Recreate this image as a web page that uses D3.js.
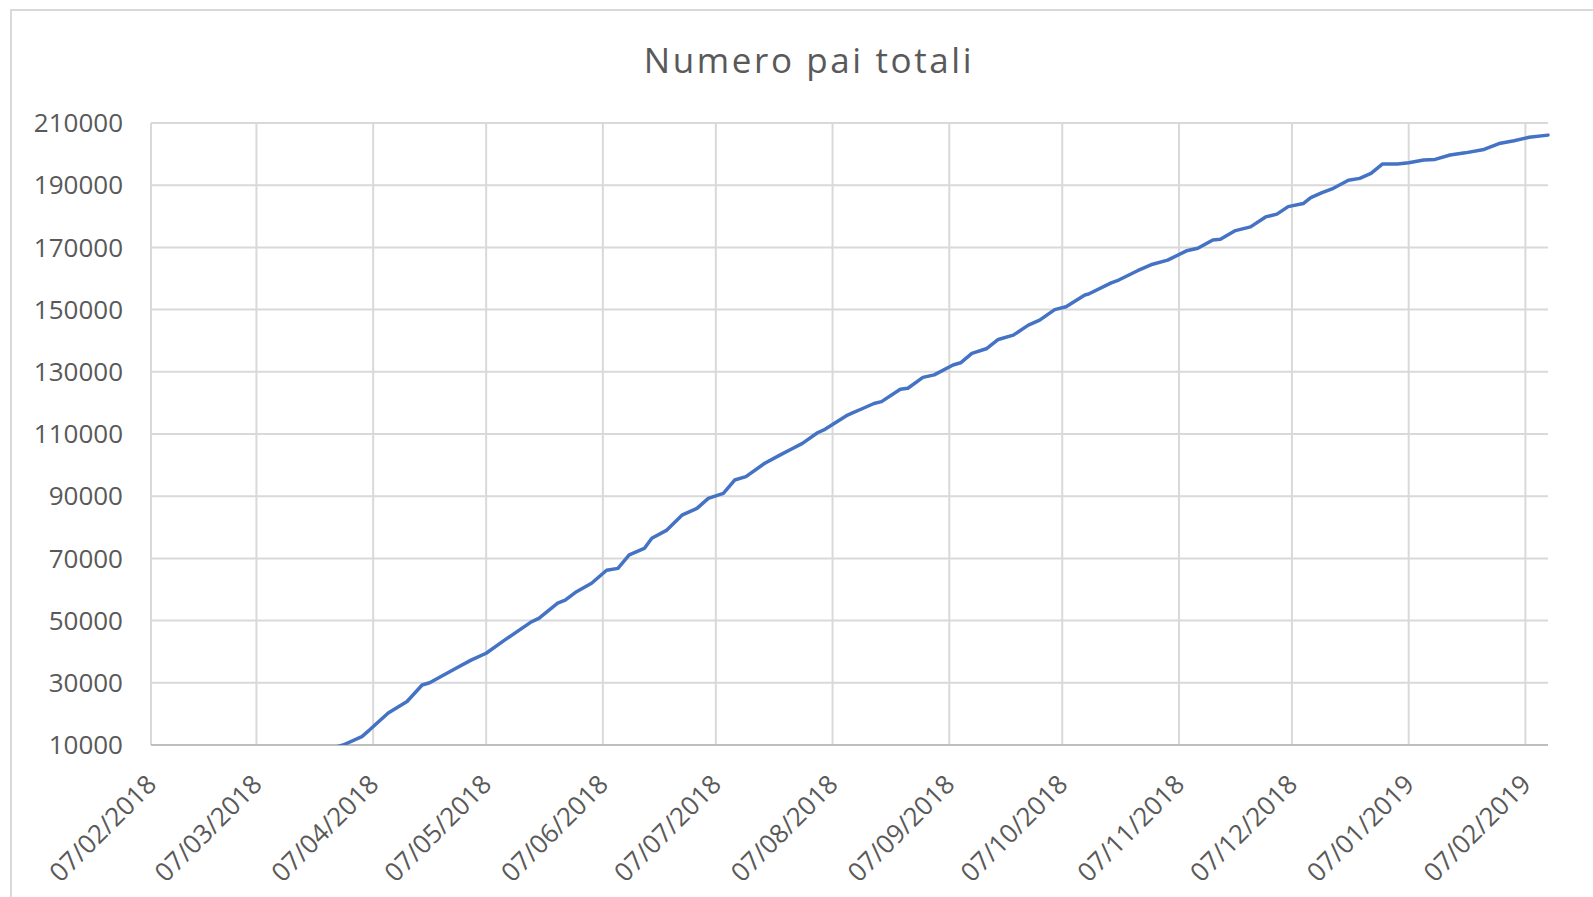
<!DOCTYPE html>
<html>
<head>
<meta charset="utf-8">
<script src="https://cdn.jsdelivr.net/npm/d3@7"></script>
<style>
  body { margin: 0; background: #fff; }
  svg { display: block; }
  text { font-family: "Open Sans", "Noto Sans", sans-serif; fill: #595959; }
</style>
</head>
<body>
<script>
// data (date, total)
var dates = ["2018-03-28","2018-03-30","2018-04-04","2018-04-06","2018-04-11","2018-04-16","2018-04-20","2018-04-22",
  "2018-04-29","2018-05-03","2018-05-07","2018-05-12","2018-05-19","2018-05-21","2018-05-26","2018-05-28","2018-05-31",
  "2018-06-04","2018-06-08","2018-06-11","2018-06-14","2018-06-18","2018-06-20","2018-06-24","2018-06-28",
  "2018-07-02","2018-07-05","2018-07-09","2018-07-12","2018-07-15","2018-07-20","2018-07-24","2018-07-27","2018-07-30",
  "2018-08-03","2018-08-05","2018-08-11","2018-08-12","2018-08-15","2018-08-18","2018-08-20","2018-08-25","2018-08-27","2018-08-31",
  "2018-09-03","2018-09-08","2018-09-10","2018-09-13","2018-09-17","2018-09-20","2018-09-24","2018-09-28",
  "2018-10-01","2018-10-05","2018-10-08","2018-10-13","2018-10-14","2018-10-20","2018-10-22","2018-10-27","2018-10-31",
  "2018-11-04","2018-11-09","2018-11-12","2018-11-16","2018-11-18","2018-11-22","2018-11-26","2018-11-30",
  "2018-12-03","2018-12-06","2018-12-10","2018-12-12","2018-12-15","2018-12-18","2018-12-22","2018-12-25","2018-12-28","2018-12-31",
  "2019-01-04","2019-01-07","2019-01-11","2019-01-14","2019-01-18","2019-01-22","2019-01-27","2019-01-31",
  "2019-02-04","2019-02-08","2019-02-13"];
var totals = [9300,10000,12700,14800,20300,24000,29300,30000,
  34700,37300,39500,43800,49600,50700,55600,56600,59300,
  62000,66200,66800,71100,73200,76500,79100,83900,
  86100,89300,90900,95200,96300,100600,103200,105100,107000,
  110400,111500,116100,116600,118200,119800,120400,124400,124700,128200,
  129000,132200,132900,135900,137500,140400,141800,145000,
  146600,150000,150900,154700,155000,158600,159500,162500,164600,
  165900,168900,169700,172400,172600,175400,176600,179800,
  180700,183100,184100,186000,187600,189000,191600,192200,193800,196800,
  196800,197200,198100,198300,199700,200400,201500,203400,
  204300,205400,206100];

var xTicks = ["2018-02-07","2018-03-07","2018-04-07","2018-05-07","2018-06-07","2018-07-07","2018-08-07",
  "2018-09-07","2018-10-07","2018-11-07","2018-12-07","2019-01-07","2019-02-07"];
var yTicks = [10000,30000,50000,70000,90000,110000,130000,150000,170000,190000,210000];
var xStart = "2018-02-07", xEnd = "2019-02-13";
var title = "Numero pai totali";

var W = 1593, H = 897;
var m = {left: 151, right: 1548, top: 123, bottom: 745};
var parse = d3.timeParse("%Y-%m-%d");
var fmt = d3.timeFormat("%d/%m/%Y");

var svg = d3.select("body").append("svg").attr("width", W).attr("height", H);

svg.append("rect").attr("x", 11).attr("y", 10).attr("width", W + 20).attr("height", H + 20)
  .attr("fill", "#fff").attr("stroke", "#d9d9d9").attr("stroke-width", 2);

var x = d3.scaleTime().domain([parse(xStart), parse(xEnd)]).range([m.left, m.right]);
var y = d3.scaleLinear().domain([10000, 210000]).range([m.bottom, m.top]);

// horizontal gridlines
svg.append("g").selectAll("line").data(yTicks.slice(1)).enter().append("line")
  .attr("x1", m.left).attr("x2", m.right)
  .attr("y1", function(d) { return y(d); }).attr("y2", function(d) { return y(d); })
  .attr("stroke", "#d9d9d9").attr("stroke-width", 2);

// vertical gridlines
svg.append("g").selectAll("line").data(xTicks).enter().append("line")
  .attr("x1", function(d) { return x(parse(d)); }).attr("x2", function(d) { return x(parse(d)); })
  .attr("y1", m.top).attr("y2", m.bottom)
  .attr("stroke", "#d9d9d9").attr("stroke-width", 2);

// bottom axis line
svg.append("line").attr("x1", m.left).attr("x2", m.right).attr("y1", m.bottom).attr("y2", m.bottom)
  .attr("stroke", "#bfbfbf").attr("stroke-width", 2);

// y labels
svg.append("g").selectAll("text").data(yTicks).enter().append("text")
  .attr("x", 123).attr("y", function(d) { return y(d); }).attr("dy", "0.35em")
  .attr("text-anchor", "end").attr("font-size", 26)
  .text(function(d) { return d; });

// x labels
svg.append("g").selectAll("text").data(xTicks).enter().append("text")
  .attr("transform", function(d) { return "translate(" + (x(parse(d)) + 7) + ",786) rotate(-45)"; })
  .attr("text-anchor", "end").attr("font-size", 26)
  .text(function(d) { return fmt(parse(d)); });

svg.append("text").attr("x", 809).attr("y", 73).attr("text-anchor", "middle")
  .attr("font-size", 35).attr("letter-spacing", 2.6).text(title);

svg.append("clipPath").attr("id", "plot").append("rect")
  .attr("x", m.left).attr("y", m.top - 5).attr("width", m.right - m.left + 5).attr("height", m.bottom - m.top + 5);

var pts = dates.map(function(d, i) { return [parse(d), totals[i]]; });
var line = d3.line().x(function(d) { return x(d[0]); }).y(function(d) { return y(d[1]); });

svg.append("path").datum(pts).attr("d", line).attr("clip-path", "url(#plot)")
  .attr("fill", "none").attr("stroke", "#4472c4").attr("stroke-width", 3.5)
  .attr("stroke-linejoin", "round").attr("stroke-linecap", "round");
</script>
</body>
</html>
